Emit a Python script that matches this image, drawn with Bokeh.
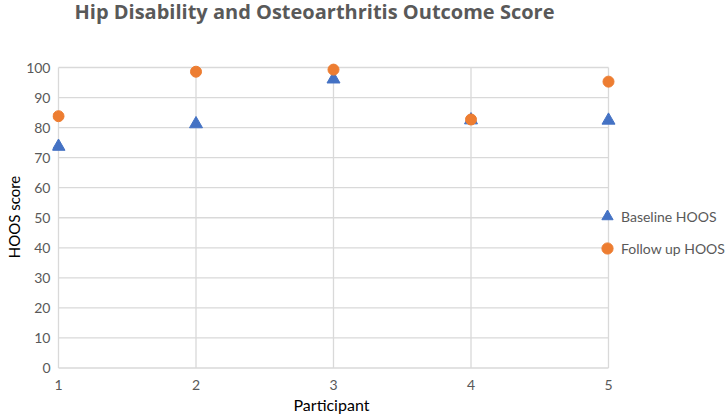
from bokeh.plotting import figure
from bokeh.layouts import column
from bokeh.models import FixedTicker, Legend, LegendItem, Range1d, ColumnDataSource, Title, Label
from bokeh.embed import file_html
from bokeh.resources import INLINE

# ---- data ----
participants = [1, 2, 3, 4, 5]
baseline_hoos = [73.7, 81.2, 96.1, 82.5, 82.4]
followup_hoos = [83.8, 98.6, 99.3, 82.7, 95.3]
y_ticks = [0, 10, 20, 30, 40, 50, 60, 70, 80, 90, 100]
title_text = "Hip Disability and Osteoarthritis Outcome Score"
x_label = "Participant"
y_label = "HOOS score"

BLUE = "#4472C4"
ORANGE = "#ED7D31"
GRID = "#d9d9d9"
TXT = "#595959"
FONT = "Lato"

# ---- title strip ----
t = figure(width=725, height=24, output_backend="svg", toolbar_location=None,
           x_range=Range1d(0, 1), y_range=Range1d(0, 1),
           x_axis_location=None, y_axis_location=None, min_border=0)
t.outline_line_color = None
t.xgrid.visible = False
t.ygrid.visible = False
t.add_layout(Label(x=22, y=13, x_units="screen", y_units="screen", text=title_text,
                   text_font="Open Sans", text_font_size="20px", text_font_style="bold",
                   text_color=TXT, text_baseline="alphabetic", text_align="left"))

# ---- main chart ----
p = figure(width=725, height=394, output_backend="svg", toolbar_location=None,
           x_range=Range1d(0.95636, 5.85091), y_range=Range1d(-1.5, 102),
           min_border=0, min_border_left=52, min_border_right=0, min_border_top=37, min_border_bottom=46)
p.outline_line_color = None
p.xgrid.visible = False
p.ygrid.visible = False

# grid lines built from tick values
xmin, xmax = min(participants), max(participants)
ymin, ymax = min(y_ticks), max(y_ticks)
p.segment(x0=[xmin] * len(y_ticks), x1=[xmax] * len(y_ticks), y0=y_ticks, y1=y_ticks,
          line_color=GRID, line_width=1.3)
p.segment(x0=participants, x1=participants, y0=[ymin] * len(participants), y1=[ymax] * len(participants),
          line_color=GRID, line_width=1.3)

src = ColumnDataSource(dict(x=participants, b=baseline_hoos, f=followup_hoos))
r_b = p.scatter("x", "b", source=src, marker="triangle", size=13, color=BLUE)
r_f = p.scatter("x", "f", source=src, marker="circle", size=11, color=ORANGE)

# axes
for ax in (p.xaxis[0], p.yaxis[0]):
    ax.axis_line_color = None
    ax.major_tick_line_color = None
    ax.minor_tick_line_color = None
    ax.major_tick_out = 0
    ax.major_tick_in = 0
    ax.minor_tick_out = 0
    ax.major_label_text_font = FONT
    ax.major_label_text_font_size = "14px"
    ax.major_label_text_color = TXT
    ax.axis_label_text_font = FONT
    ax.axis_label_text_font_size = "15px"
    ax.axis_label_text_font_style = "normal"
    ax.axis_label_text_color = "#000000"

p.xaxis.ticker = FixedTicker(ticks=participants)
p.yaxis.ticker = FixedTicker(ticks=y_ticks)
p.yaxis.axis_label = y_label
p.xaxis.major_label_standoff = 7
p.yaxis.major_label_standoff = 2
p.yaxis.axis_label_standoff = 0

# x label as a title below
p.add_layout(Title(text=x_label, align="left", offset=241, standoff=0,
                   text_font=FONT, text_font_size="16px", text_font_style="normal",
                   text_color="#000000"), "below")

legend = Legend(items=[LegendItem(label="Baseline HOOS", renderers=[r_b]),
                       LegendItem(label="Follow up HOOS", renderers=[r_f])],
                location=(541, 108), glyph_width=28, glyph_height=32, label_height=32,
                label_standoff=0, spacing=0, padding=0, margin=0,
                border_line_color=None, background_fill_alpha=0,
                label_text_font=FONT, label_text_font_size="14px", label_text_color=TXT)
p.add_layout(legend, "center")

layout = column(t, p, spacing=0)
open("out.html", "w").write(file_html(layout, INLINE))
